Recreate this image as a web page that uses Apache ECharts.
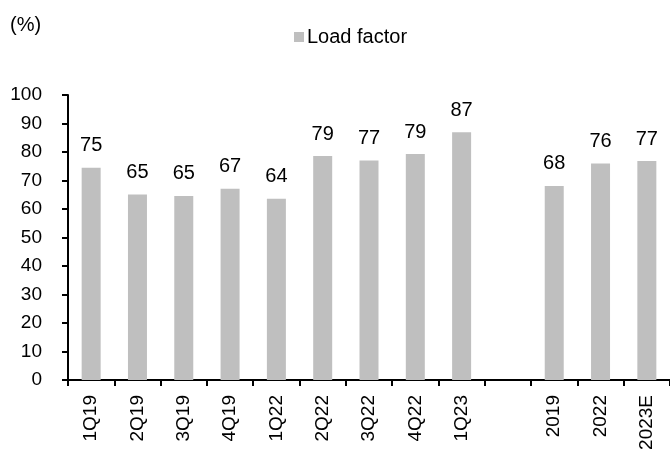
<!DOCTYPE html>
<html>
<head>
<meta charset="utf-8">
<script src="https://cdn.jsdelivr.net/npm/echarts@6/dist/echarts.min.js"></script>
<style>
  html, body { margin: 0; padding: 0; background: #fff; }
  #chart { width: 670px; height: 457px; }
</style>
</head>
<body>
<div id="chart"></div>
<script>
// periods, blank slot separates quarters from full years
var categories = ["1Q19", "2Q19", "3Q19", "4Q19", "1Q22", "2Q22", "3Q22", "4Q22", "1Q23", "", "2019", "2022", "2023E"];
var loadFactor = [74.5, 65.1, 64.6, 67.1, 63.6, 78.6, 77.0, 79.3, 86.9, "-", 68.1, 76.0, 76.8];
var yTicks = { min: 0, max: 100, interval: 10 };

var font = "'Liberation Sans', Arial, sans-serif";
var chart = echarts.init(document.getElementById("chart"));

var option = {
  animation: false,
  textStyle: { fontFamily: font, color: "#000" },
  title: {
    text: "(%)",
    left: 5,
    top: 10,
    textStyle: { fontFamily: font, fontSize: 20, fontWeight: "normal", color: "#000" }
  },
  legend: {
    data: ["Load factor"],
    left: 289,
    top: 22,
    icon: "rect",
    itemWidth: 10,
    itemHeight: 10,
    textStyle: { fontFamily: font, fontSize: 20, color: "#000", padding: [0, 0, 0, -2] }
  },
  grid: {
    left: 68,
    right: 0,
    top: 95,
    bottom: 77,
    containLabel: false,
    outerBoundsMode: "none"
  },
  xAxis: {
    type: "category",
    data: categories,
    axisLine: { lineStyle: { color: "#000", width: 2 } },
    axisTick: { show: true, length: 6, lineStyle: { color: "#000", width: 2 } },
    axisLabel: {
      rotate: 90,
      margin: 15,
      interval: 0,
      fontFamily: font,
      fontSize: 19,
      color: "#000"
    },
    splitLine: { show: false }
  },
  yAxis: {
    type: "value",
    min: yTicks.min,
    max: yTicks.max,
    interval: yTicks.interval,
    axisLine: { show: true, lineStyle: { color: "#000", width: 2 } },
    axisTick: { show: true, length: 6, lineStyle: { color: "#000", width: 2 } },
    axisLabel: { margin: 26, fontFamily: font, fontSize: 19, color: "#000" },
    splitLine: { show: false }
  },
  series: [
    {
      name: "Load factor",
      type: "bar",
      data: loadFactor,
      barWidth: 19,
      itemStyle: { color: "#BFBFBF" },
      label: {
        show: true,
        position: "top",
        distance: 12,
        fontFamily: font,
        fontSize: 20,
        color: "#000",
        formatter: function (p) { return Math.round(p.value); }
      }
    }
  ]
};

chart.setOption(option);
</script>
</body>
</html>
